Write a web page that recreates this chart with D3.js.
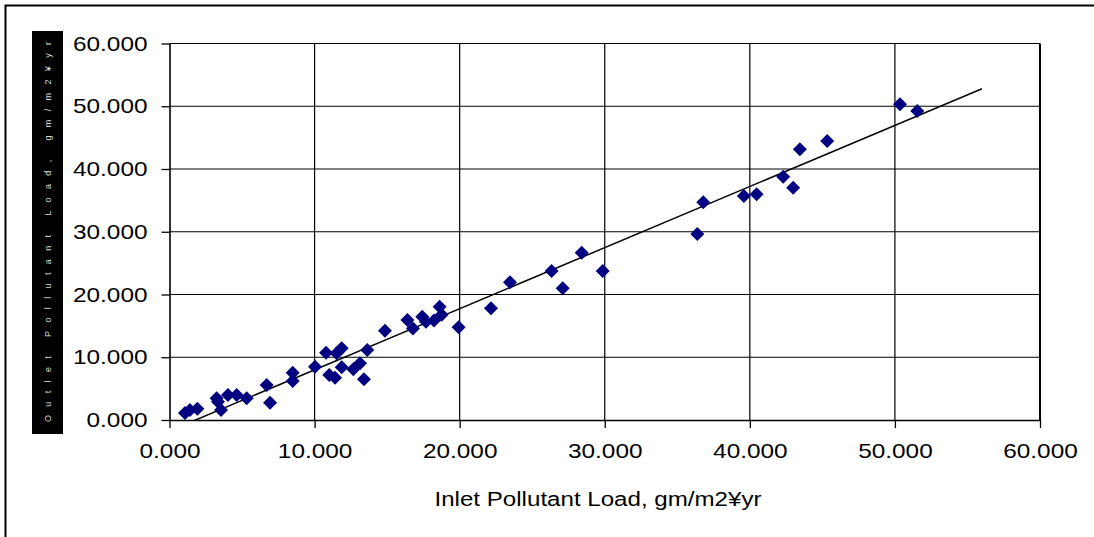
<!DOCTYPE html>
<html>
<head>
<meta charset="utf-8">
<script src="https://cdn.jsdelivr.net/npm/d3@7"></script>
<style>
  html, body { margin: 0; padding: 0; background: #fff; }
  svg { display: block; font-family: "Liberation Sans", Arial, sans-serif; }
</style>
</head>
<body>
<svg id="chart" width="1094" height="537"></svg>
<script>
// inlet load (x) and outlet load (y), gm/m2/yr
const inletLoad = [1.07, 1.41, 1.92, 3.25, 3.34, 3.55, 4.03, 4.63, 5.32, 6.70, 6.93, 8.49, 8.49,
  10.03, 10.79, 11.52, 11.87, 11.01, 11.41, 11.87, 12.67, 13.13, 13.40, 13.63, 14.85, 16.40,
  16.78, 17.42, 17.68, 18.23, 18.62, 18.76, 19.93, 22.16, 23.47, 26.34, 27.10, 28.41, 29.86,
  36.38, 36.79, 39.59, 40.47, 42.30, 42.99, 43.45, 45.33, 50.35, 51.54]
const outletLoad = [1.12, 1.59, 1.80, 3.46, 2.92, 1.59, 3.98, 3.98, 3.46, 5.58, 2.76, 7.54, 6.22,
  8.49, 10.72, 10.63, 11.43, 7.17, 6.74, 8.40, 8.08, 9.04, 6.49, 11.16, 14.23, 15.94,
  14.58, 16.46, 15.67, 15.86, 18.06, 16.78, 14.77, 17.80, 21.94, 23.75, 20.99, 26.66, 23.75,
  29.64, 34.69, 35.70, 35.97, 38.77, 37.02, 43.14, 44.46, 50.31, 49.24]
const tickValues = [0, 10, 20, 30, 40, 50, 60]
// linear trendline: y = slope * x + intercept, up to x = 56
const trendSlope = 0.974
const trendIntercept = -1.75
const trendEnd = 56

const xTitle = 'Inlet Pollutant Load, gm/m2\u00a5yr'
const yTitle = 'Outlet Pollutant Load, gm/m2\u00a5yr'

const svg = d3.select('#chart')
const plotLeft = 169.5, plotRight = 1040, plotTop = 43.5, plotBottom = 420
const stretch = 1.16 // the picture's text is a bit wide

const x = d3.scaleLinear().domain([0, 60]).range([plotLeft, plotRight])
const y = d3.scaleLinear().domain([0, 60]).range([plotBottom, plotTop])

// outer chart frame (runs off the right and bottom edges)
svg.append('rect')
  .attr('x', 5.5).attr('y', 5.5)
  .attr('width', 1100).attr('height', 540)
  .attr('fill', 'none').attr('stroke', '#000').attr('stroke-width', 2)

// grid
svg.append('g').selectAll('line')
  .data(tickValues.slice(1))
  .enter().append('line')
  .attr('x1', plotLeft).attr('x2', plotRight)
  .attr('y1', d => y(d)).attr('y2', d => y(d))
  .attr('stroke', '#000').attr('stroke-width', 1.2)
svg.append('g').selectAll('line')
  .data(tickValues.slice(1))
  .enter().append('line')
  .attr('y1', plotTop).attr('y2', plotBottom)
  .attr('x1', d => x(d)).attr('x2', d => x(d))
  .attr('stroke', '#000').attr('stroke-width', d => d === 60 ? 2 : 1.2)

// axes
const fmt = d3.format('.3f')
const gx = svg.append('g')
  .attr('transform', `translate(0,${plotBottom})`)
  .call(d3.axisBottom(x).tickValues(tickValues).tickFormat(fmt).tickSize(8).tickPadding(15).tickSizeOuter(0))
const gy = svg.append('g')
  .attr('transform', `translate(${plotLeft},0)`)
  .call(d3.axisLeft(y).tickValues(tickValues).tickFormat(fmt).tickSize(8).tickPadding(14).tickSizeOuter(0))

svg.selectAll('.domain').attr('stroke', '#000').attr('stroke-width', 1.6)
svg.selectAll('.tick line').attr('stroke', '#000').attr('stroke-width', 1.3)
svg.selectAll('.tick text')
  .attr('fill', '#000')
  .style('font-family', '"Liberation Sans", Arial, sans-serif')
  .style('font-size', '21px')
  .each(function () {
    const w = this.getComputedTextLength()
    d3.select(this).attr('textLength', w * stretch).attr('lengthAdjust', 'spacingAndGlyphs')
  })

// x title
svg.append('text')
  .attr('x', 598).attr('y', 506)
  .attr('text-anchor', 'middle')
  .style('font-size', '20px')
  .attr('textLength', 327).attr('lengthAdjust', 'spacingAndGlyphs')
  .text(xTitle)

// y title: shows as a black strip with faint white lettering
svg.append('rect')
  .attr('x', 32).attr('y', 31).attr('width', 31).attr('height', 403)
  .attr('fill', '#000')
svg.append('text')
  .attr('transform', 'translate(48,232) rotate(-90)')
  .attr('text-anchor', 'middle')
  .attr('dy', '0.35em')
  .attr('fill', '#ddd')
  .style('font-size', '9px')
  .attr('textLength', 380).attr('lengthAdjust', 'spacing')
  .text(yTitle)

// trendline, clipped to the plot area
svg.append('clipPath').attr('id', 'plotclip')
  .append('rect').attr('x', plotLeft).attr('y', plotTop)
  .attr('width', plotRight - plotLeft).attr('height', plotBottom - plotTop)
const x0 = d3.min(inletLoad)
svg.append('line')
  .attr('clip-path', 'url(#plotclip)')
  .attr('x1', x(x0)).attr('y1', y(trendIntercept + trendSlope * x0))
  .attr('x2', x(trendEnd)).attr('y2', y(trendIntercept + trendSlope * trendEnd))
  .attr('stroke', '#000').attr('stroke-width', 1.5)

// points
const diamond = d3.symbol().type(d3.symbolSquare).size(98)
svg.append('g').selectAll('path')
  .data(inletLoad.map((v, i) => [v, outletLoad[i]]))
  .enter().append('path')
  .attr('d', diamond)
  .attr('transform', d => `translate(${x(d[0])},${y(d[1])}) rotate(45)`)
  .attr('fill', '#000080')
</script>
</body>
</html>
